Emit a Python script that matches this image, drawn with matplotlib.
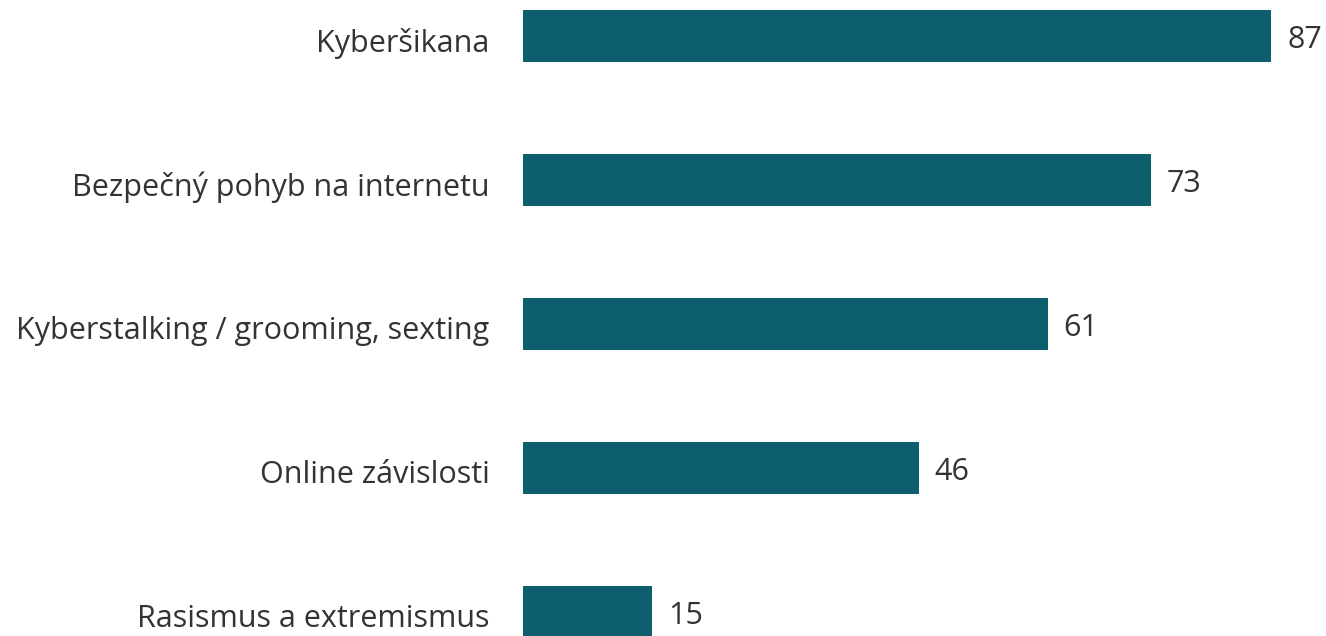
import matplotlib
matplotlib.use('Agg')
import matplotlib.pyplot as plt
from matplotlib.transforms import ScaledTranslation

# data
categories = ['Kyberšikana', 'Bezpečný pohyb na internetu', 'Kyberstalking / grooming, sexting',
              'Online závislosti', 'Rasismus a extremismus']
values = [87, 73, 61, 46, 15]

plt.rcParams['font.family'] = ['Open Sans', 'DejaVu Sans']

fig = plt.figure(figsize=(13.26, 6.36), dpi=100)
ax = fig.add_axes([523 / 1326, 0, 1 - 523 / 1326, 1])

y = range(len(categories))
ax.barh(y, values, height=0.36, color='#0d5f6e')
ax.set_ylim(4.1667, -0.25)
ax.set_xlim(0, (1326 - 523) / 8.6)

for i, v in enumerate(values):
    ax.annotate(str(v), (v, i), xytext=(16, -4), textcoords='offset pixels',
                va='center', ha='left', fontsize=22, color='#333333')

ax.set_yticks(list(y))
ax.set_yticklabels(categories, fontsize=22, color='#333333')
ax.tick_params(axis='y', length=0, pad=24)
shift = ScaledTranslation(0, -4 / 100, fig.dpi_scale_trans)
for lbl in ax.get_yticklabels():
    lbl.set_transform(lbl.get_transform() + shift)
ax.set_xticks([])
for s in ax.spines.values():
    s.set_visible(False)

fig.savefig('out.png', dpi=100)
